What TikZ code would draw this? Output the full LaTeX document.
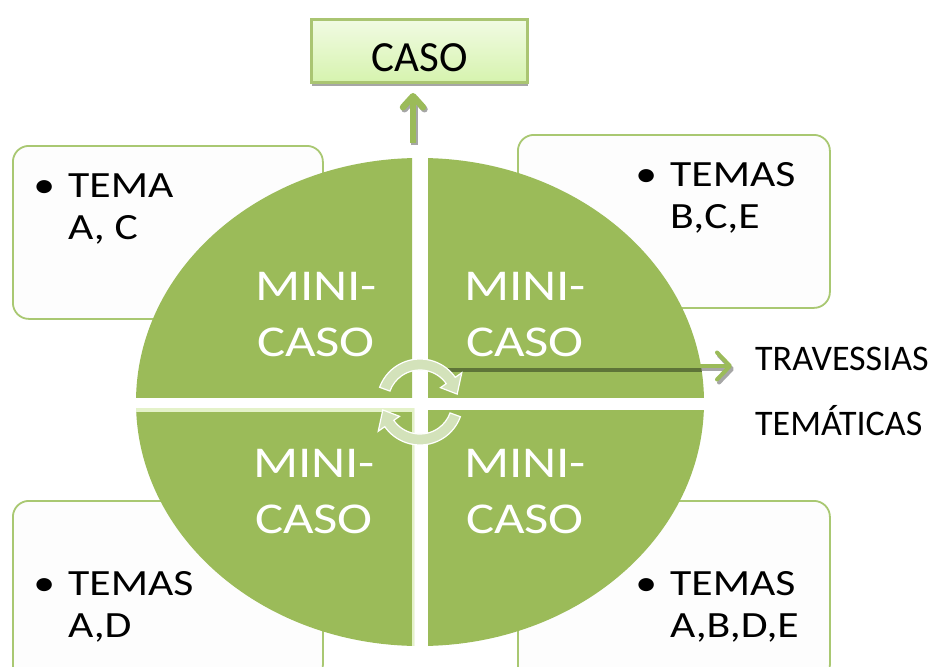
\documentclass[tikz,border=0pt]{standalone}
\usepackage{fontspec}
\setmainfont{Carlito}
\usetikzlibrary{arrows.meta,calc,shadows}
\definecolor{olv}{HTML}{9BBB59}
\definecolor{boxline}{HTML}{A9C872}
\definecolor{darkolv}{HTML}{5E7438}
\definecolor{arcfill}{HTML}{D3E2BA}
\definecolor{casotop}{HTML}{F1FBE3}
\definecolor{casobot}{HTML}{D6F3AE}
\definecolor{glowc}{HTML}{E4F2C9}
\definecolor{boxfill}{HTML}{FDFDFD}
\definecolor{shadowc}{HTML}{A6A6A6}
\tikzset{
  themebox/.style={draw=boxline, line width=1.8pt, fill=boxfill, rounded corners=16pt,
    anchor=north west, inner sep=0pt},
  casobox/.style={draw=olv!85!white, line width=2.2pt, top color=casotop, bottom color=casobot,
    minimum width=216pt, minimum height=63pt, inner sep=0pt,
    drop shadow={shadow xshift=0.5pt, shadow yshift=-4pt, fill=shadowc, opacity=1}},
  minitext/.style={text=white, anchor=base, inner sep=0pt,
    font=\fontsize{44}{56}\selectfont},
  listtext/.style={text=black, anchor=base west, inner sep=0pt,
    font=\fontsize{37}{42}\selectfont},
  sidetext/.style={text=black, anchor=base west, inner sep=0pt,
    font=\fontsize{36}{42}\selectfont},
  greenarrow/.style={draw=olv, line width=5pt,
    -{Straight Barb[length=13pt,width=27pt,round]}},
  shadowarrow/.style={draw=shadowc, line width=5pt,
    -{Straight Barb[length=13pt,width=27pt,round]}},
  uparrow/.style={line width=6.5pt, -{Straight Barb[length=11pt,width=20pt,round]}},
  circarrow/.style={fill=arcfill, draw=white, line width=1.2pt}
}
\newcommand{\minicaso}{\scalebox{1.2}[1]{\begin{tabular}[t]{@{}c@{}}MINI-\\CASO\end{tabular}}}
\newcommand{\bulletlist}[2]{\scalebox{1.18}[1]{\begin{tabular}[t]{@{}l@{}l@{}}\makebox[40.7pt][c]{•}&#1\\&#2\end{tabular}}}
\begin{document}
\begin{tikzpicture}[x=1pt,y=1pt]
\useasboundingbox (0,0) rectangle (936,-666);
\clip (0,0) rectangle (936,-666);
\fill[white] (0,0) rectangle (936,-666);

% theme boxes (behind the ellipse)
\node[themebox, minimum width=310pt, minimum height=173pt] (tl) at (12,-145) {};
\node[themebox, minimum width=312pt, minimum height=173pt] (tr) at (517,-134) {};
\node[themebox, minimum width=310pt, minimum height=180pt] (bl) at (12,-500) {};
\node[themebox, minimum width=312pt, minimum height=180pt] (br) at (517,-500) {};

% ellipse quadrants
\begin{scope}
  \clip (0,0) rectangle (412,-397);
  \fill[olv] (420,-402) ellipse [x radius=284, y radius=244];
\end{scope}
\begin{scope}
  \clip (428,0) rectangle (936,-397);
  \fill[olv] (420,-402) ellipse [x radius=284, y radius=244];
\end{scope}
\begin{scope}
  \clip (0,-408) rectangle (414,-666);
  \fill[olv] (420,-402) ellipse [x radius=284, y radius=244];
  \begin{scope}
    \clip (420,-402) ellipse [x radius=284, y radius=244];
    \draw[glowc, line width=4pt] (0,-410) -- (414,-410) -- (414,-666);
  \end{scope}
\end{scope}
\begin{scope}
  \clip (428,-410) rectangle (936,-666);
  \fill[olv] (420,-402) ellipse [x radius=284, y radius=244];
\end{scope}

% list texts
\node[listtext] (tltext) at (20,-197) {\bulletlist{TEMA}{A, C}};
\node[listtext] (trtext) at (622,-186) {\bulletlist{TEMAS}{B,C,E}};
\node[listtext] (bltext) at (20,-595) {\bulletlist{TEMAS}{A,D}};
\node[listtext] (brtext) at (622,-595) {\bulletlist{TEMAS}{A,B,D,E}};

% mini-caso labels
\node[minitext] (q1) at (316,-300) {\minicaso};
\node[minitext] (q2) at (525,-300) {\minicaso};
\node[minitext] (q3) at (314,-477) {\minicaso};
\node[minitext] (q4) at (525,-477) {\minicaso};

% CASO box
\node[casobox] (caso) at (419.5,-51) {};
\node[anchor=base, inner sep=0pt, font=\fontsize{43}{50}\selectfont] (casotext) at (419.5,-72) {CASO};

% up arrow
\coordinate (upstart) at (413,-143);
\coordinate (uptip) at (413,-93);
\draw[uparrow, draw=shadowc] ([shift={(1.5,-2)}]upstart) -- ([shift={(1.5,-2)}]uptip);
\draw[uparrow, draw=olv] (upstart) -- (uptip);

% right arrow
\coordinate (rstart) at (447,-366);
\coordinate (rtip) at (732,-366);
\draw[shadowarrow, line width=4pt] ([shift={(2,-3)}]rstart) -- ([shift={(2,-3)}]rtip);
\draw[greenarrow, line width=4pt] (rstart) -- (rtip);
\begin{scope}
  \clip (420,-402) ellipse [x radius=284, y radius=244];
  \draw[darkolv, line width=4pt] (447,-369.5) -- (712,-369.5);
\end{scope}

% side text
\node[sidetext] (trav) at (755,-370) {TRAVESSIAS};
\node[sidetext] (tema) at (755,-435) {TEMÁTICAS};

% circular arrows
\begin{scope}[shift={(420,-402)}]
  \filldraw[circarrow] (160:43) arc[start angle=160, end angle=35, radius=43]
     -- (35:51) -- (12:38) -- (35:25) -- (35:32)
     arc[start angle=35, end angle=160, radius=32] -- cycle;
  \begin{scope}[rotate=180]
  \filldraw[circarrow] (160:43) arc[start angle=160, end angle=35, radius=43]
     -- (35:51) -- (12:38) -- (35:25) -- (35:32)
     arc[start angle=35, end angle=160, radius=32] -- cycle;
  \end{scope}
\end{scope}
\end{tikzpicture}
\end{document}
